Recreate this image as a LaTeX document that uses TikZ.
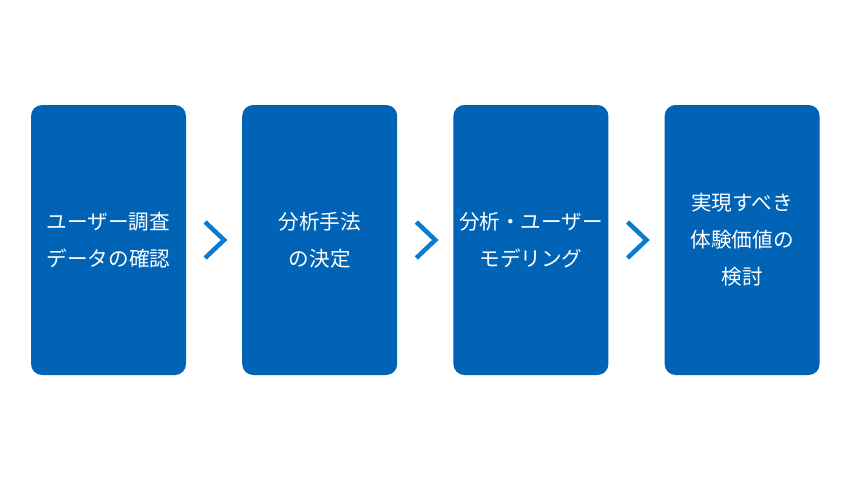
\documentclass[tikz,border=0pt]{standalone}
\usepackage{fontspec}
\newfontfamily\cjk{Noto Sans CJK JP}
\usetikzlibrary{positioning, calc}
\definecolor{stepblue}{HTML}{0063B6}
\definecolor{arrowblue}{HTML}{0A7BCF}

\begin{document}
\begin{tikzpicture}[
    x=1pt, y=-1pt,
    node distance=55.8pt,
    stage/.style={fill=stepblue, rounded corners=11pt, minimum width=155pt, minimum height=270pt,
        inner sep=0pt, align=center, text=white, font=\cjk\fontsize{20.6}{37}\selectfont},
    chevron/.style={draw=arrowblue, line width=4.5pt, line join=miter},
]
\useasboundingbox (0,0) rectangle (850,480);

% Stages
\node[stage] (s1) at (108.5,240) {ユーザー調査\\データの確認};
\node[stage, right=of s1] (s2) {分析手法\\の決定};
\node[stage, right=of s2] (s3) {分析・ユーザー\\モデリング};
\node[stage, right=of s3] (s4) {実現すべき\\体験価値の\\検討};

% Chevrons between stages
\foreach \a/\b in {s1/s2, s2/s3, s3/s4} {
    \coordinate (tip-\a) at ($(\a.east)!0.5!(\b.west)+(10,0)$);
    \draw[chevron] ($(tip-\a)+(-19,-18)$) -- (tip-\a) -- ($(tip-\a)+(-19,18)$);
}

\end{tikzpicture}
\end{document}
